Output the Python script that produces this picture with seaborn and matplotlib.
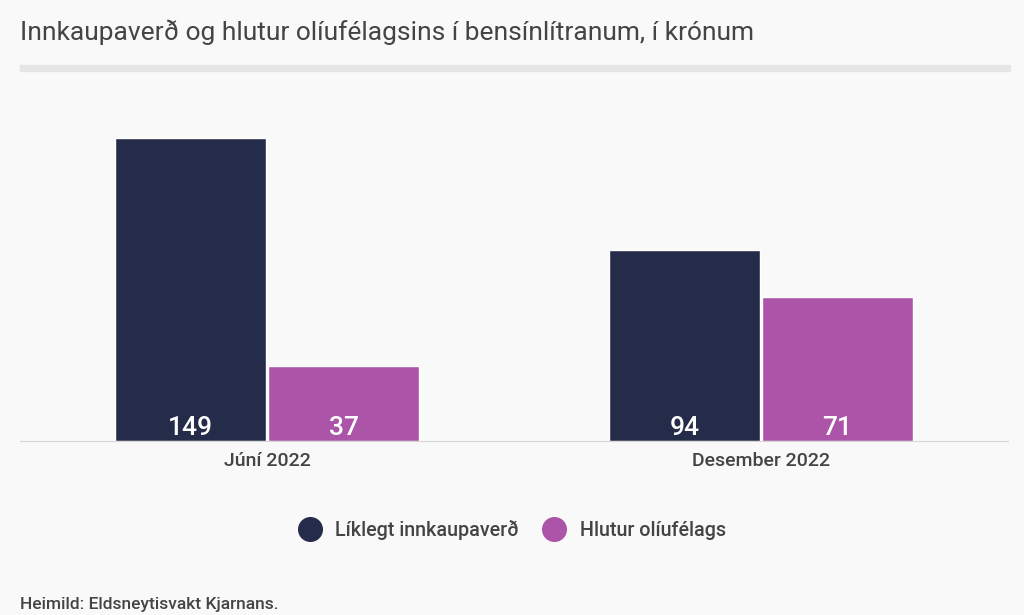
import pandas as pd
import matplotlib.pyplot as plt
from matplotlib.patches import Rectangle
import seaborn as sns

# gögn
timabil = ['Júní 2022', 'Desember 2022']
innkaupaverd = [149, 94]
hlutur_oliufelags = [37, 71]
flokkar = ['Líklegt innkaupaverð', 'Hlutur olíufélags']
litir = ['#252c4a', '#ab54a8']

df = pd.DataFrame({
    'timabil': timabil * 2,
    'flokkur': [flokkar[0]] * 2 + [flokkar[1]] * 2,
    'kronur': innkaupaverd + hlutur_oliufelags,
})

sns.set_style('white')
plt.rcParams['font.family'] = ['Roboto', 'DejaVu Sans']

fig = plt.figure(figsize=(10.24, 6.15), dpi=100)
fig.patch.set_facecolor('#f9f9f9')
ax = fig.add_axes([20 / 1024, 1 - 441 / 615, 988 / 1024, 361 / 615])
ax.set_facecolor('#f9f9f9')

sns.barplot(data=df, x='timabil', y='kronur', hue='flokkur', saturation=1,
            palette=litir, width=0.62, gap=0.012, legend=False, ax=ax)

# gildin neðst í súlunum
for c in ax.containers:
    for bar in c:
        ax.text(bar.get_x() + bar.get_width() / 2, 3, f'{bar.get_height():.0f}',
                ha='center', va='baseline', color='white', fontsize=19, fontweight='medium')

ax.set_xlim(-0.5, 1.5)
ax.set_ylim(0, 177.5)
ax.set_xlabel('')
ax.set_ylabel('')
ax.set_yticks([])
for s in ['left', 'right', 'top']:
    ax.spines[s].set_visible(False)
ax.spines['bottom'].set_color('#d6d6d6')
ax.tick_params(axis='x', length=0, labelsize=14, labelcolor='#444444', pad=8)
for t in ax.get_xticklabels():
    t.set_fontweight('medium')

# titill og grá lína
fig.text(20 / 1024, 1 - 32 / 615, 'Innkaupaverð og hlutur olíufélagsins í bensínlítranum, í krónum',
         fontsize=19, color='#444444', va='center', ha='left')
fig.patches.append(Rectangle((20 / 1024, 1 - 71 / 615), 990 / 1024, 6 / 615,
                             transform=fig.transFigure, color='#e6e6e6', zorder=0))

# skýringar
handles = [plt.Line2D([], [], marker='o', linestyle='', markersize=17, color=l) for l in litir]
leg = fig.legend(handles, flokkar, loc='center', bbox_to_anchor=(508 / 1024, 1 - 530 / 615),
                 ncol=2, frameon=False, fontsize=14.2, labelcolor='#444444',
                 handletextpad=0.3, columnspacing=0.8)
for t in leg.get_texts():
    t.set_fontweight('medium')

fig.text(20 / 1024, 1 - 604 / 615, 'Heimild: Eldsneytisvakt Kjarnans.',
         fontsize=12.5, color='#444444', fontweight='medium', va='center', ha='left')

plt.savefig('out.png', dpi=100, facecolor=fig.get_facecolor())
